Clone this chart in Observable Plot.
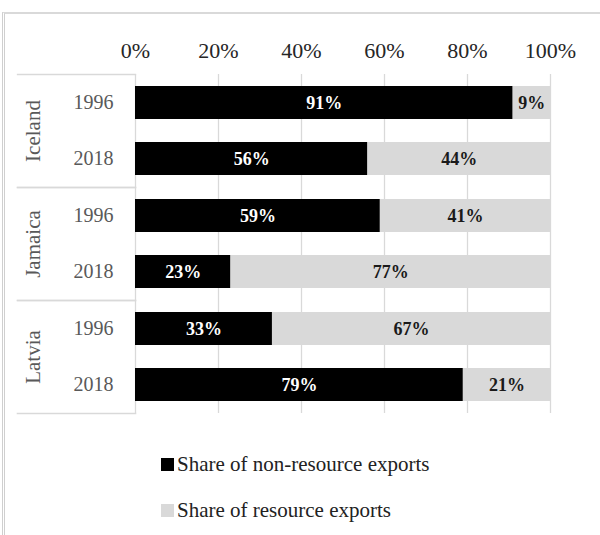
<!DOCTYPE html>
<html><head><meta charset="utf-8">
<script src="https://cdn.jsdelivr.net/npm/d3@7"></script>
<script src="https://cdn.jsdelivr.net/npm/@observablehq/plot@0.6"></script>
<style>
body{margin:0;background:#fff;font-family:"Liberation Serif",serif;}
#wrap{position:relative;width:600px;height:535px;overflow:hidden;}
#frame{position:absolute;left:2px;top:12px;width:610px;height:540px;border-top:2px solid #d9d9d9;border-left:3px double #cfcfcf;}
#chart{position:absolute;left:0;top:0;}
.leg{position:absolute;left:161px;font-size:21px;color:#222;display:flex;align-items:center;white-space:nowrap;}
.sw{width:13px;height:13px;margin-right:3px;}
</style></head>
<body><div id="wrap"><div id="frame"></div><div id="chart"></div><div id="legend"></div></div>
<script>
const countries = ["Iceland", "Jamaica", "Latvia"];
const years = ["1996", "2018"];
const seriesNames = ["Share of non-resource exports", "Share of resource exports"];
const nonResource = [91, 56, 59, 23, 33, 79];
const resource = [9, 44, 41, 77, 67, 21];
const xTicks = [0, 0.2, 0.4, 0.6, 0.8, 1];
const colors = ["#000000", "#d9d9d9"];

const data = [];
nonResource.forEach((v, i) => {
  const country = countries[Math.floor(i / 2)], year = years[i % 2];
  data.push({country, year, type: seriesNames[0], value: v / 100, label: v + "%"});
  data.push({country, year, type: seriesNames[1], value: resource[i] / 100, label: resource[i] + "%"});
});

const grid = "#d9d9d9";
const serif = "Liberation Serif, serif";
const plot = Plot.plot({
  width: 600, height: 430,
  marginTop: 74, marginLeft: 135, marginRight: 50, marginBottom: 17,
  style: {fontFamily: serif, background: "transparent", overflow: "visible"},
  x: {domain: [0, 1], axis: null, label: null},
  y: {domain: years, paddingInner: 0.41, paddingOuter: 0.205, axis: null, label: null},
  fy: {domain: countries, padding: 0, axis: null, label: null},
  color: {domain: seriesNames, range: colors},
  marks: [
    Plot.gridX(xTicks, {stroke: grid, strokeOpacity: 1, strokeWidth: 1.3}),
    Plot.frame({anchor: "top", stroke: grid, strokeWidth: 1.3, insetLeft: -118, insetRight: 415}),
    Plot.frame({anchor: "bottom", stroke: grid, strokeWidth: 1.6, insetLeft: -118, insetRight: 415}),
    Plot.axisX(xTicks, {anchor: "top", label: null, tickSize: 0, tickPadding: 17, tickFormat: d3.format(".0%"), fontSize: 22, fill: "#262626", fontFamily: serif}),
    Plot.axisY({anchor: "left", label: null, tickSize: 0, tickPadding: 22, fontSize: 20, fill: "#595959", fontFamily: serif}),
    Plot.text(countries, {fy: d => d, text: d => d, frameAnchor: "left", rotate: -90, dx: -102, fontSize: 21, fill: "#595959", textAnchor: "middle", fontFamily: serif}),
    Plot.barX(data, Plot.stackX({x: "value", y: "year", fy: "country", fill: "type", order: seriesNames})),
    Plot.text(data, Plot.stackX({x: "value", y: "year", fy: "country", z: "type", order: seriesNames,
      text: d => d.type === seriesNames[0] ? d.label : "", fill: "white", fontWeight: "bold", fontSize: 18, fontFamily: serif})),
    Plot.text(data, Plot.stackX({x: "value", y: "year", fy: "country", z: "type", order: seriesNames,
      text: d => d.type === seriesNames[1] ? d.label : "", fill: "#1a1a1a", fontWeight: "bold", fontSize: 18, fontFamily: serif}))
  ]
});
document.getElementById("chart").appendChild(plot);

const legend = document.getElementById("legend");
seriesNames.forEach((name, i) => {
  const row = document.createElement("div");
  row.className = "leg";
  row.style.top = (452 + i * 46) + "px";
  const sw = document.createElement("span");
  sw.className = "sw";
  sw.style.background = colors[i];
  row.appendChild(sw);
  row.appendChild(document.createTextNode(name));
  legend.appendChild(row);
});
</script>
</body></html>
